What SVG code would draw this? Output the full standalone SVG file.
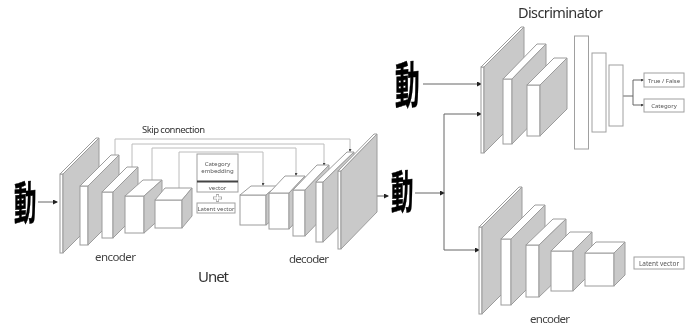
<svg xmlns="http://www.w3.org/2000/svg" width="694" height="327" viewBox="0 0 694 327">
<style>
g{filter:url(#soft)}
text{font-family:"Noto Sans","Open Sans","Noto Sans CJK KR",sans-serif;fill:#333}
.f{fill:#fff;stroke:#9c9c9c;stroke-width:1}
.s{fill:#c9c9c9;stroke:#9c9c9c;stroke-width:1;stroke-linejoin:round}
.b{fill:#fff;stroke:#a0a0a0;stroke-width:1}
.l{fill:none;stroke:#bcbcbc;stroke-width:1}
.a{fill:none;stroke:#666;stroke-width:1}
.h{font-family:"Noto Sans CJK KR","Noto Sans CJK JP",sans-serif;font-weight:700;fill:#000;stroke:#000;stroke-width:.4px}
.t{font-size:6px;text-anchor:middle;fill:#555}
.c{font-size:11.500px;fill:#444}
</style>
<defs>
<filter id="soft" x="-5%" y="-5%" width="110%" height="110%"><feGaussianBlur stdDeviation="0.45"/></filter>
<marker id="ah" markerWidth="5" markerHeight="5" refX="4" refY="2.500" orient="auto" markerUnits="userSpaceOnUse"><path d="M0 0L5 2.500L0 5z" fill="#222"/></marker>
<marker id="as" markerWidth="3" markerHeight="3" refX="2" refY="1.500" orient="auto" markerUnits="userSpaceOnUse"><path d="M0 0L3 1.500L0 3z" fill="#444"/></marker>
</defs>
<g id="connectors">
<path class="l" marker-end="url(#as)" d="M115 155V139H350V151"/>
<path class="l" marker-end="url(#as)" d="M132 167V144H324V165"/>
<path class="l" marker-end="url(#as)" d="M152 180V148H296V175"/>
<path class="l" marker-end="url(#as)" d="M179 188V152H263V185"/>
<path class="a" marker-end="url(#ah)" d="M38 202H57"/>
<path class="a" marker-end="url(#ah)" d="M370 196H388"/>
<path class="a" marker-end="url(#ah)" d="M423 84H481"/>
<path class="a" marker-end="url(#ah)" d="M415 193H444"/>
<path class="a" marker-end="url(#ah)" d="M444 193V114H481"/>
<path class="a" marker-end="url(#ah)" d="M444 193V250H479"/>
<path class="a" marker-end="url(#as)" d="M623 96H633V80H643"/>
<path class="a" marker-end="url(#as)" d="M633 96V105H643"/>
</g>
<g id="glyph-input"><text class="h" font-size="40" transform="translate(14 221) skewY(-6) scale(.56 1.150)">動</text></g>
<g id="u-enc1"><rect class="f" x="60" y="174" width="3" height="79"/><polygon class="f" points="60,174 63,174 99,138 96,138"/><polygon class="s" points="63,174 99,138 99,217 63,253"/></g>
<g id="u-enc2"><rect class="f" x="80" y="186" width="8" height="59"/><polygon class="f" points="80,186 88,186 119,155 111,155"/><polygon class="s" points="88,186 119,155 119,214 88,245"/></g>
<g id="u-enc3"><rect class="f" x="102" y="192" width="11" height="46"/><polygon class="f" points="102,192 113,192 138,167 127,167"/><polygon class="s" points="113,192 138,167 138,213 113,238"/></g>
<g id="u-enc4"><rect class="f" x="125" y="196" width="19" height="37"/><polygon class="f" points="125,196 144,196 162,180 143,180"/><polygon class="s" points="144,196 162,180 162,217 144,233"/></g>
<g id="u-enc5"><rect class="f" x="155" y="200" width="27" height="28"/><polygon class="f" points="155,200 182,200 192,188 165,188"/><polygon class="s" points="182,200 192,188 192,216 182,228"/></g>
<g id="category-embedding"><rect class="b" x="197" y="154" width="41" height="38"/><path d="M197 181.500H238" stroke="#444" stroke-width="2"/><text class="t" x="217.500" y="166">Category</text><text class="t" x="217.500" y="173">embedding</text><text class="t" x="217.500" y="190">vector</text></g>
<g id="plus"><path d="M217.500 194V202M213 198H222" stroke="#aaa" stroke-width="3"/><path d="M217.500 195V201M214 198H221" stroke="#fff" stroke-width="1.500"/></g>
<g id="latent-u"><rect class="b" x="197" y="203" width="38" height="10"/><text class="t" x="216" y="210.500">Latent vector</text></g>
<g id="u-dec1"><rect class="f" x="240" y="195" width="26" height="30"/><polygon class="f" points="240,195 266,195 277,186 251,186"/><polygon class="s" points="266,195 277,186 277,216 266,225"/></g>
<g id="u-dec2"><rect class="f" x="269" y="193" width="20" height="36"/><polygon class="f" points="269,193 289,193 305,176 285,176"/><polygon class="s" points="289,193 305,176 305,212 289,229"/></g>
<g id="u-dec3"><rect class="f" x="293" y="190" width="12" height="46"/><polygon class="f" points="293,190 305,190 329,165 317,165"/><polygon class="s" points="305,190 329,165 329,211 305,236"/></g>
<g id="u-dec4"><rect class="f" x="316" y="182" width="7" height="60"/><polygon class="f" points="316,182 323,182 354,152 347,152"/><polygon class="s" points="323,182 354,152 354,212 323,242"/></g>
<g id="u-dec5"><rect class="f" x="338" y="171" width="3" height="78"/><polygon class="f" points="338,171 341,171 377,134 374,134"/><polygon class="s" points="341,171 377,134 377,212 341,249"/></g>
<g id="glyph-output"><text class="h" font-size="40" transform="translate(391 210) skewY(-6) scale(.56 1.150)">動</text></g>
<g id="glyph-real"><text class="h" font-size="44" transform="translate(395 105) skewY(-6) scale(.56 1.150)">動</text></g>
<g id="d-1"><rect class="f" x="481" y="67" width="3" height="86"/><polygon class="f" points="481,67 484,67 524,27 521,27"/><polygon class="s" points="484,67 524,27 524,113 484,153"/></g>
<g id="d-2"><rect class="f" x="503" y="79" width="9" height="65"/><polygon class="f" points="503,79 512,79 546,44 537,44"/><polygon class="s" points="512,79 546,44 546,109 512,144"/></g>
<g id="d-3"><rect class="f" x="527" y="85" width="13" height="51"/><polygon class="f" points="527,85 540,85 567,58 554,58"/><polygon class="s" points="540,85 567,58 567,109 540,136"/></g>
<g id="fc-1"><rect class="b" x="574.500" y="36" width="14" height="113"/></g>
<g id="fc-2"><rect class="b" x="592" y="53" width="14" height="79"/></g>
<g id="fc-3"><rect class="b" x="609" y="65" width="14" height="61"/></g>
<g id="true-false"><rect class="b" x="644" y="73" width="40" height="14"/><text class="t" x="664" y="82.500">True / False</text></g>
<g id="category"><rect class="b" x="644" y="99" width="40" height="13"/><text class="t" x="664" y="108">Category</text></g>
<g id="e-1"><rect class="f" x="479" y="227" width="3" height="87"/><polygon class="f" points="479,227 482,227 522,187 519,187"/><polygon class="s" points="482,227 522,187 522,274 482,314"/></g>
<g id="e-2"><rect class="f" x="501" y="239" width="10" height="66"/><polygon class="f" points="501,239 511,239 545,205 535,205"/><polygon class="s" points="511,239 545,205 545,271 511,305"/></g>
<g id="e-3"><rect class="f" x="526" y="245" width="13" height="52"/><polygon class="f" points="526,245 539,245 566,219 553,219"/><polygon class="s" points="539,245 566,219 566,271 539,297"/></g>
<g id="e-4"><rect class="f" x="551" y="251" width="22" height="40"/><polygon class="f" points="551,251 573,251 592,232 570,232"/><polygon class="s" points="573,251 592,232 592,272 573,291"/></g>
<g id="e-5"><rect class="f" x="585" y="253" width="29" height="33"/><polygon class="f" points="585,253 614,253 625,242 596,242"/><polygon class="s" points="614,253 625,242 625,275 614,286"/></g>
<g id="latent-e"><rect class="b" x="634" y="257" width="50" height="12"/><text class="t" x="659" y="265.500" style="font-size:6.500px">Latent vector</text></g>
<g id="labels">
<text x="142" y="133" font-size="9.500" textLength="63">Skip connection</text>
<text class="c" x="95" y="261" textLength="41">encoder</text>
<text class="c" x="289" y="263" textLength="40">decoder</text>
<text x="198" y="282" font-size="15" textLength="31">Unet</text>
<text x="518" y="18" font-size="14.500" textLength="85">Discriminator</text>
<text class="c" x="530" y="323" textLength="40">encoder</text>
</g>
</svg>
